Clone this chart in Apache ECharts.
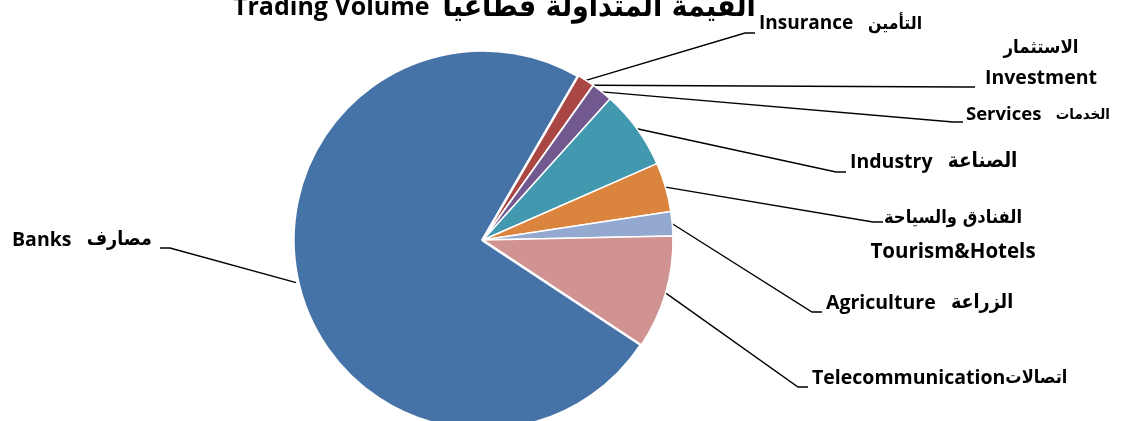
<!DOCTYPE html>
<html><head><meta charset="utf-8">
<script src="https://cdn.jsdelivr.net/npm/echarts@6/dist/echarts.min.js"></script>
<style>html,body{margin:0;padding:0;background:#fff}#c{width:1127px;height:421px}</style>
</head><body><div id="c"></div>
<script>
// ---- data ----
const sectors = ['Banks','Insurance','Investment','Services','Industry','Tourism&Hotels','Agriculture','Telecommunication'];
const sectorsAr = ['مصارف','التأمين','الاستثمار','الخدمات','الصناعة','الفنادق والسياحة','الزراعة','اتصالات'];
const shares = [74.11, 1.44, 0.03, 1.81, 6.75, 4.19, 2.06, 9.64];
const titleEn = 'Trading Volume';
const titleAr = 'القيمة المتداولة قطاعيا';

// ---- styling / label placement (not data) ----
const colors = ['#4572a7','#aa4643','#89a54e','#71588f','#4198af','#db843d','#93a9cf','#d19392'];
const labelKind = ['inline','inline','stacked','inline','inline','stacked','inline','joined'];
const labelPos = [[12,240],[759,24],[1041,63],[966,115],[850,162],[953,235],[826,303],[812,378]];
const lineEnd = [[160,248],[755,33],[975,87],[963,122],[846,172],[883,222],[822,312],[808,387]];
const lineH = [22,22,30,22,22,34,22,22];
const enSize = [19.5,19,19.5,18.5,19.5,20.5,19.5,19.5];
const arSize = [19.5,17.5,18.5,15,20.5,18.2,19.5,18];
const EN_FONT = '"Open Sans", Lato, sans-serif';
const AR_FONT = '"DejaVu Sans Condensed", "DejaVu Sans", sans-serif';

function richFor(i) {
  return {
    en: { fontFamily: EN_FONT, fontWeight: 'bold', fontSize: enSize[i], color: '#000', lineHeight: lineH[i] },
    ar: { fontFamily: AR_FONT, fontWeight: 'bold', fontSize: arSize[i], color: '#000', lineHeight: lineH[i] }
  };
}
function labelText(i) {
  if (labelKind[i] === 'stacked') return '{ar|' + sectorsAr[i] + '}\n{en|' + sectors[i] + '}';
  if (labelKind[i] === 'joined') return '{en|' + sectors[i] + '}{ar|' + sectorsAr[i] + '}';
  return '{en|' + sectors[i] + '}{en|   }{ar|' + sectorsAr[i] + '}';
}

const data = sectors.map((n, i) => ({
  name: n, value: shares[i],
  itemStyle: i === 0 ? { color: colors[i], borderWidth: 3.5 } : { color: colors[i] },
  label: { rich: richFor(i), align: labelKind[i] === 'stacked' ? 'center' : 'left' }
}));

const chart = echarts.init(document.getElementById('c'), null, { renderer: 'canvas' });
chart.setOption({
  animation: false,
  backgroundColor: '#fff',
  title: {
    text: '{en|' + titleEn + '}{en|  }{ar|' + titleAr + '}', left: 228, top: -12,
    textStyle: {
      rich: {
        en: { fontFamily: EN_FONT, fontWeight: 'bold', fontSize: 25, color: '#000' },
        ar: { fontFamily: AR_FONT, fontWeight: 'bold', fontSize: 30, color: '#000' }
      }
    }
  },
  series: [{
    type: 'pie',
    center: [483, 240],
    radius: 190,
    startAngle: -33.5,
    clockwise: true,
    avoidLabelOverlap: false,
    itemStyle: { borderColor: '#fff', borderWidth: 1.5 },
    emphasis: { disabled: true },
    label: {
      show: true, position: 'outside',
      formatter: p => labelText(p.dataIndex),
      color: '#000'
    },
    labelLine: { show: true, length: 10, length2: 10, lineStyle: { color: '#000', width: 1.4 } },
    labelLayout: function (params) {
      const i = params.dataIndex;
      const end = lineEnd[i];
      const dir = i === 0 ? -10 : 10;
      const start = params.labelLinePoints ? params.labelLinePoints[0] : end;
      return {
        x: labelPos[i][0], y: labelPos[i][1],
        align: labelKind[i] === 'stacked' ? 'center' : 'left',
        verticalAlign: 'middle',
        labelLinePoints: [start, [end[0] - dir, end[1]], end]
      };
    },
    data: data
  }]
});
</script></body></html>
